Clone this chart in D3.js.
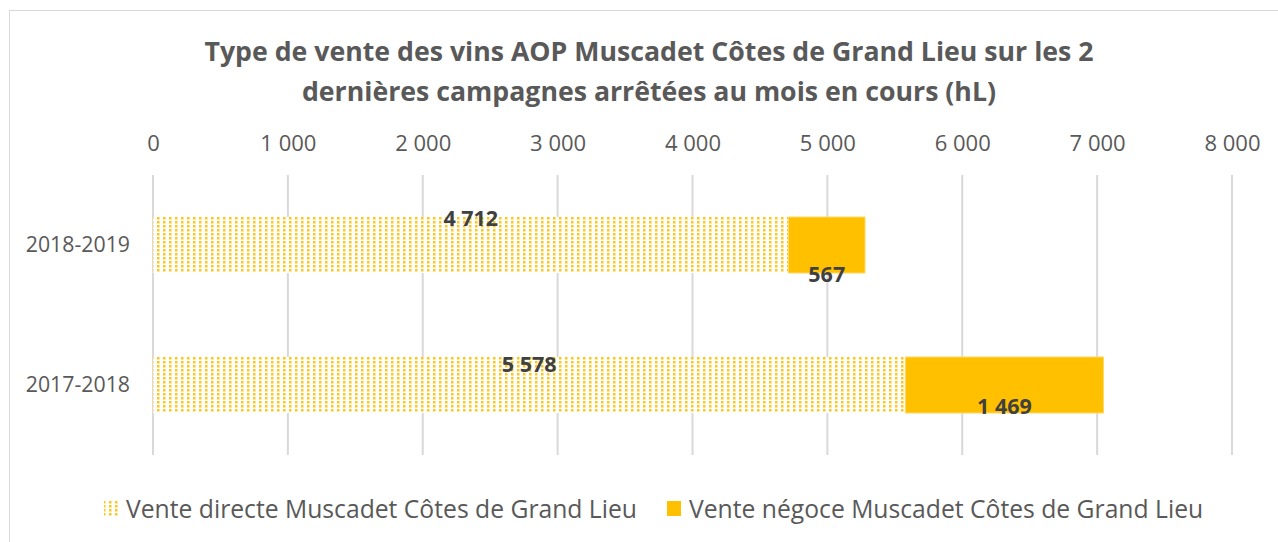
<!DOCTYPE html>
<html>
<head>
<meta charset="utf-8">
<script src="https://cdn.jsdelivr.net/npm/d3@7"></script>
<style>
  body { margin: 0; background: #fff; }
  svg text { font-family: "Open Sans", Lato, sans-serif; fill: #595959; }
  .grid line { stroke: #d9d9d9; stroke-width: 2; }
  .label { font-weight: bold; fill: #404040; font-size: 21.5px; }
</style>
</head>
<body>
<svg width="1278" height="542"></svg>
<script>
  var campagnes = ['2018-2019', '2017-2018'];
  var venteDirecte = [4712, 5578];
  var venteNegoce = [567, 1469];
  var series = ['Vente directe Muscadet Côtes de Grand Lieu', 'Vente négoce Muscadet Côtes de Grand Lieu'];
  var ticks = [0, 1000, 2000, 3000, 4000, 5000, 6000, 7000, 8000];
  var titre = ['Type de vente des vins AOP Muscadet Côtes de Grand Lieu sur les 2',
               'dernières campagnes arrêtées au mois en cours (hL)'];

  var svg = d3.select('svg');
  var fmt = function(v) { return d3.format(',')(v).replace(/,/g, ' '); };

  // dotted pattern for the first series
  var defs = svg.append('defs');
  var pat = defs.append('pattern').attr('id', 'dots').attr('patternUnits', 'userSpaceOnUse')
    .attr('width', 6).attr('height', 4);
  pat.append('rect').attr('width', 6).attr('height', 4).attr('fill', '#fff');
  pat.append('rect').attr('x', 1).attr('y', 1).attr('width', 2.5).attr('height', 2.5).attr('fill', '#ffc000').attr('opacity', 0.9);

  // chart frame
  svg.append('rect').attr('x', 9.5).attr('y', 10.5).attr('width', 1300).attr('height', 600)
    .attr('fill', 'none').attr('stroke', '#d9d9d9');

  var x = d3.scaleLinear().domain([0, 8000]).range([153, 1232]);
  var y = d3.scaleBand().domain(campagnes).range([175, 455]).paddingInner(0.6).paddingOuter(0.3);

  svg.selectAll('.title').data(titre).enter().append('text')
    .attr('x', 649).attr('y', function(d, i) { return 61 + i * 40; })
    .attr('text-anchor', 'middle').style('font-size', '26.7px').style('font-weight', 'bold')
    .text(function(d) { return d; });

  var grid = svg.append('g').attr('class', 'grid');
  grid.selectAll('line').data(ticks).enter().append('line')
    .attr('x1', function(d) { return x(d); }).attr('x2', function(d) { return x(d); })
    .attr('y1', 175).attr('y2', 455);

  var axis = d3.axisTop(x).tickValues(ticks).tickFormat(fmt).tickSize(0).tickPadding(0);
  var ax = svg.append('g').attr('transform', 'translate(0,151)').call(axis);
  ax.select('.domain').remove();
  ax.selectAll('text').style('font-size', '22px').style('font-family', '"Open Sans", sans-serif').attr('fill', '#595959');

  var yAxis = d3.axisLeft(y).tickSize(0).tickPadding(0);
  var ay = svg.append('g').attr('transform', 'translate(130,0)').call(yAxis);
  ay.select('.domain').remove();
  ay.selectAll('text').style('font-size', '21.3px').style('font-family', '"Open Sans", sans-serif').attr('fill', '#595959');

  var rows = campagnes.map(function(c, i) { return {c: c, d: venteDirecte[i], n: venteNegoce[i]}; });

  svg.selectAll('.bar-d').data(rows).enter().append('rect')
    .attr('x', x(0)).attr('y', function(d) { return y(d.c); })
    .attr('width', function(d) { return x(d.d) - x(0); }).attr('height', y.bandwidth())
    .attr('fill', 'url(#dots)');

  svg.selectAll('.bar-n').data(rows).enter().append('rect')
    .attr('x', function(d) { return x(d.d); }).attr('y', function(d) { return y(d.c); })
    .attr('width', function(d) { return x(d.d + d.n) - x(d.d); }).attr('height', y.bandwidth())
    .attr('fill', '#ffc000').attr('stroke', '#ffd966').attr('stroke-width', 1);

  // data labels (offsets copied from the excel layout)
  var offD = [9, 15], offN = [9, 1];
  svg.selectAll('.lab-d').data(rows).enter().append('text').attr('class', 'label')
    .attr('x', function(d) { return (x(0) + x(d.d)) / 2; })
    .attr('y', function(d, i) { return y(d.c) + offD[i]; })
    .attr('text-anchor', 'middle').text(function(d) { return fmt(d.d); });
  svg.selectAll('.lab-n').data(rows).enter().append('text').attr('class', 'label')
    .attr('x', function(d) { return (x(d.d) + x(d.d + d.n)) / 2; })
    .attr('y', function(d, i) { return y(d.c) + y.bandwidth() + offN[i]; })
    .attr('text-anchor', 'middle').text(function(d) { return fmt(d.n); });

  // legend
  var leg = svg.append('g');
  var legX = [104, 667];
  series.forEach(function(s, i) {
    leg.append('rect').attr('x', legX[i]).attr('y', 501).attr('width', 14).attr('height', 15)
      .attr('fill', i === 0 ? 'url(#dots)' : '#ffc000');
    leg.append('text').attr('x', legX[i] + 22).attr('y', 518).style('font-size', '24.7px').text(s);
  });
</script>
</body>
</html>
